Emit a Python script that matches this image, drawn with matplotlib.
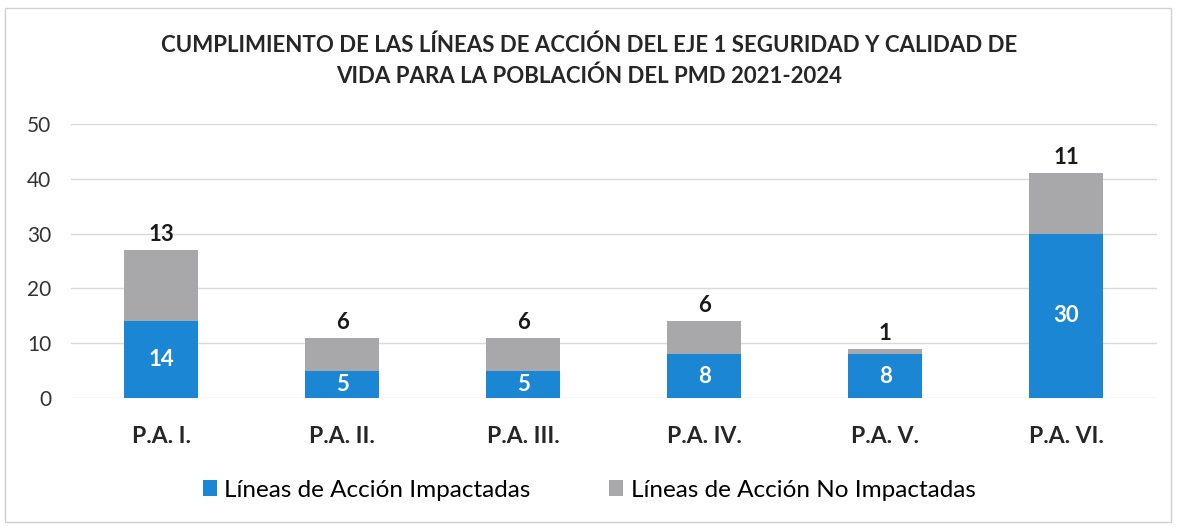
import numpy as np
import matplotlib.pyplot as plt

categorias = ["P.A. I.", "P.A. II.", "P.A. III.", "P.A. IV.", "P.A. V.", "P.A. VI."]
impactadas = [14, 5, 5, 8, 8, 30]
no_impactadas = [13, 6, 6, 6, 1, 11]

plt.rcParams['font.family'] = ['Lato', 'DejaVu Sans']

azul = "#1a86d4"
gris = "#a8a8aa"

fig = plt.figure(figsize=(11.78, 5.27), dpi=100)
ax = fig.add_axes([0.060, 0.2448, 0.922, 0.52])

x = np.arange(len(categorias))
ancho = 0.41
b1 = ax.bar(x, impactadas, ancho, color=azul, label="Líneas de Acción Impactadas", zorder=3)
b2 = ax.bar(x, no_impactadas, ancho, bottom=impactadas, color=gris,
            label="Líneas de Acción No Impactadas", zorder=3)

# valores
for i in range(len(x)):
    ax.text(x[i], impactadas[i] / 2, str(impactadas[i]), ha="center", va="center",
            color="white", fontsize=16, fontweight="bold", zorder=4)
    ax.text(x[i], impactadas[i] + no_impactadas[i] + 0.9, str(no_impactadas[i]),
            ha="center", va="bottom", color="#1a1a1a", fontsize=16, fontweight="bold", zorder=4)

ax.set_xlim(-0.5, 5.5)
ax.set_ylim(0, 50)
ax.set_yticks(range(0, 51, 10))
ax.yaxis.grid(True, color="#d9d9d9", linewidth=1, zorder=0)
ax.tick_params(axis="y", length=0, labelsize=15, colors="#333333", pad=14)
ax.tick_params(axis="x", length=0, pad=20)
ax.set_xticks(x)
ax.set_xticklabels(categorias, fontsize=16.5, fontweight="bold", color="#262626")
for s in ax.spines.values():
    s.set_visible(False)

fig.text(0.5, 0.885, "CUMPLIMIENTO DE LAS LÍNEAS DE ACCIÓN DEL EJE 1 SEGURIDAD Y CALIDAD DE\n"
         "VIDA PARA LA POBLACIÓN DEL PMD 2021-2024",
         ha="center", va="center", fontsize=16, fontweight="bold", color="#262626",
         linespacing=1.55)

fig.legend(handles=[b1, b2], loc="center", bbox_to_anchor=(0.5, 0.07), ncol=2,
           frameon=False, fontsize=17.5, handlelength=0.6, handleheight=0.6,
           handletextpad=0.3, columnspacing=3.2)

# marco del gráfico
fig.patches.append(plt.Rectangle((0.004, 0.01), 0.99, 0.975, transform=fig.transFigure,
                                 fill=False, edgecolor="#d0d0d0", linewidth=1))

fig.savefig("out.png", dpi=100)
